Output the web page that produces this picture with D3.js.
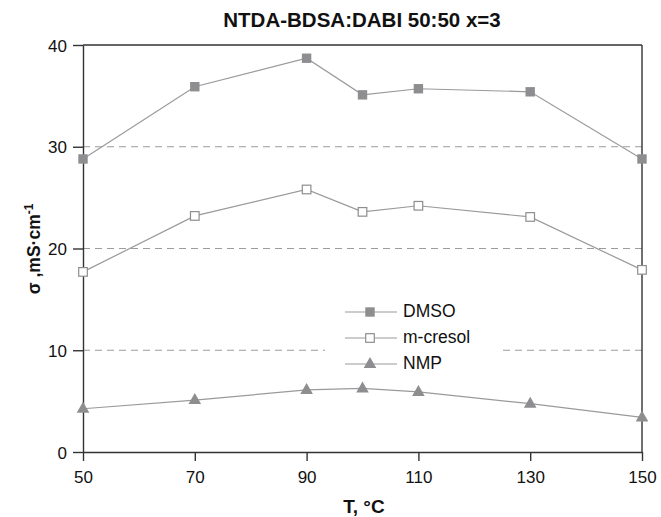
<!DOCTYPE html>
<html><head><meta charset="utf-8">
<script src="https://cdn.jsdelivr.net/npm/d3@7"></script>
<style>body{margin:0;background:#fff;}text{font-family:"Liberation Sans",Arial,sans-serif;}</style>
</head><body>
<svg id="c" width="661" height="517"></svg>
<script>
const temps = [50, 70, 90, 100, 110, 130, 150];
const dmso = [28.8, 35.9, 38.7, 35.1, 35.7, 35.4, 28.8];
const mcresol = [17.7, 23.2, 25.8, 23.6, 24.2, 23.1, 17.9];
const nmp = [4.25, 5.1, 6.1, 6.25, 5.9, 4.75, 3.4];
const xTicks = [50, 70, 90, 110, 130, 150];
const yTicks = [0, 10, 20, 30, 40];
const gridVals = [10, 20, 30];
const seriesNames = ["DMSO", "m-cresol", "NMP"];

const svg = d3.select("#c");
const L = 83, R = 642, T = 45, B = 452;
const x = d3.scaleLinear().domain([50, 150]).range([L, R]);
const y = d3.scaleLinear().domain([0, 40]).range([B, T]);
const mk = "#8e8e91", ln = "#9a9a9a";

// gridlines
svg.append("g").selectAll("line").data(gridVals).join("line")
  .attr("x1", L).attr("x2", R).attr("y1", d => y(d)).attr("y2", d => y(d))
  .attr("stroke", "#9c9c9c").attr("stroke-width", 1.2).attr("stroke-dasharray", "7,5");

// frame top and right
svg.append("line").attr("x1", L).attr("x2", R).attr("y1", T).attr("y2", T).attr("stroke", "#333").attr("stroke-width", 1.4);
svg.append("line").attr("x1", R).attr("x2", R).attr("y1", T).attr("y2", B).attr("stroke", "#333").attr("stroke-width", 1.4);

// axes
const xa = svg.append("g").attr("transform", `translate(0,${B})`)
  .call(d3.axisBottom(x).tickValues(xTicks).tickSize(9).tickSizeOuter(0).tickFormat(d3.format("d")));
const ya = svg.append("g").attr("transform", `translate(${L},0)`)
  .call(d3.axisLeft(y).tickValues(yTicks).tickSize(10).tickSizeOuter(0).tickFormat(d3.format("d")));
[xa, ya].forEach(a => {
  a.select(".domain").attr("stroke", "#333").attr("stroke-width", 1.4);
  a.selectAll(".tick line").attr("stroke", "#333").attr("stroke-width", 1.4);
  a.selectAll("text").attr("font-size", 17).attr("fill", "#111").attr("font-family", "Liberation Sans, Arial, sans-serif");
});
xa.selectAll("text").attr("y", 31).attr("dy", 0);
ya.selectAll("text").attr("x", -16).attr("dy", "0.36em");

const line = d3.line().x((d, i) => x(temps[i])).y(d => y(d));

// legend background (interrupts gridline)
svg.append("rect").attr("x", 325).attr("y", 296).attr("width", 178).attr("height", 80).attr("fill", "#fff");

function drawMarker(g, cx, cy, type) {
  if (type === "sq") {
    g.append("rect").attr("x", cx - 4.7).attr("y", cy - 4.7).attr("width", 9.4).attr("height", 9.4).attr("fill", mk);
  } else if (type === "osq") {
    g.append("rect").attr("x", cx - 4.3).attr("y", cy - 4.3).attr("width", 8.6).attr("height", 8.6).attr("fill", "#fff").attr("stroke", mk).attr("stroke-width", 1.2);
  } else {
    g.append("path").attr("d", `M${cx},${cy - 7}L${cx + 6.3},${cy + 4}L${cx - 6.3},${cy + 4}Z`).attr("fill", mk);
  }
}
function drawSeries(vals, type) {
  svg.append("path").datum(vals).attr("d", line).attr("fill", "none").attr("stroke", ln).attr("stroke-width", 1.2);
  const g = svg.append("g");
  vals.forEach((v, i) => drawMarker(g, x(temps[i]), y(v), type));
}
drawSeries(dmso, "sq");
drawSeries(mcresol, "osq");
drawSeries(nmp, "tri");

// legend
const types = ["sq", "osq", "tri"];
const lg = svg.append("g");
seriesNames.forEach((n, i) => {
  const yy = 312 + i * 26;
  lg.append("line").attr("x1", 345).attr("x2", 397).attr("y1", yy).attr("y2", yy).attr("stroke", ln).attr("stroke-width", 1.2);
  drawMarker(lg, 370, yy, types[i]);
  lg.append("text").attr("x", 403).attr("y", yy + 5).attr("font-size", 17.5).attr("fill", "#111").text(n);
});

// title
svg.append("text").attr("x", 362).attr("y", 27).attr("text-anchor", "middle").attr("font-size", 20.5).attr("font-weight", "bold").attr("fill", "#111").text("NTDA-BDSA:DABI 50:50 x=3");
// x title
svg.append("text").attr("x", 364).attr("y", 513).attr("text-anchor", "middle").attr("font-size", 19).attr("font-weight", "bold").attr("fill", "#111").text("T, °C");
// y title
const yt = svg.append("text").attr("transform", "translate(40,249) rotate(-90)").attr("text-anchor", "middle").attr("font-size", 17.5).attr("font-weight", "bold").attr("fill", "#111");
yt.append("tspan").text("σ ,mS·cm");
yt.append("tspan").attr("dy", -7).attr("font-size", 12).text("-1");
</script>
</body></html>
